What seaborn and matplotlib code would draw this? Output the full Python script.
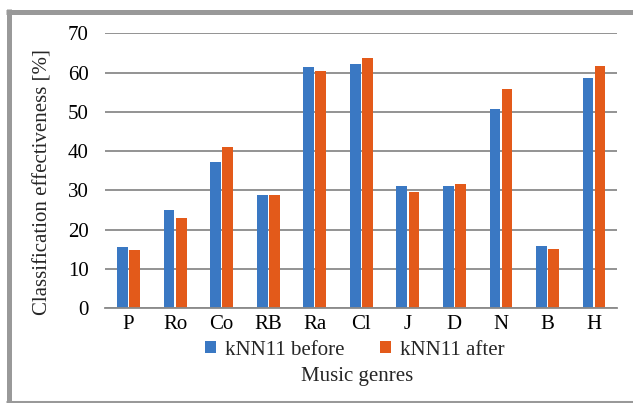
import pandas as pd
import matplotlib
matplotlib.use('Agg')
import matplotlib.pyplot as plt
from matplotlib.lines import Line2D
import seaborn as sns

# data
genres = ['P', 'Ro', 'Co', 'RB', 'Ra', 'Cl', 'J', 'D', 'N', 'B', 'H']
before = [15.5, 24.9, 37.3, 28.7, 61.4, 62.1, 31.1, 31.2, 50.6, 15.8, 58.5]
after = [14.8, 23.0, 41.0, 28.9, 60.3, 63.7, 29.6, 31.6, 55.9, 15.1, 61.6]
series = ['kNN11 before', 'kNN11 after']
colors = ['#3A78C3', '#E35A1A']

df = pd.DataFrame({'genre': genres * 2,
                   'value': before + after,
                   'series': [series[0]] * len(genres) + [series[1]] * len(genres)})

sns.set_style('white')
plt.rcParams['font.family'] = ['Liberation Serif', 'DejaVu Serif']
fs = 15

W, H = 633, 403
fig = plt.figure(figsize=(W / 100, H / 100), dpi=100)
ax = fig.add_axes([105.3 / W, 1 - 308 / H, 512 / W, 274.7 / H])

sns.barplot(data=df, x='genre', y='value', hue='series', palette=colors,
            width=0.52, gap=0.11, ax=ax, edgecolor='none', saturation=1)

ax.set_ylim(0, 70)
ax.set_yticks(range(0, 71, 10))
ax.set_xlim(-0.5, len(genres) - 0.5)
ax.yaxis.grid(True, color='#8a8a8a', linewidth=1.3)
ax.set_axisbelow(True)
for s in ['top', 'right', 'left']:
    ax.spines[s].set_visible(False)
ax.spines['bottom'].set_color('#8a8a8a')
ax.spines['bottom'].set_linewidth(1.3)
ax.tick_params(axis='both', length=0, labelsize=fs, colors='black')
ax.tick_params(axis='y', pad=12)
ax.tick_params(axis='x', pad=5)

ax.set_ylabel('Classification effectiveness [%]', fontsize=fs)
ax.yaxis.set_label_coords(-0.1217, 0.459)
ax.yaxis.label.set_verticalalignment('center')
ax.set_xlabel('Music genres', fontsize=fs)
ax.xaxis.set_label_coords(0.4916, -0.251)
ax.xaxis.label.set_verticalalignment('center')

ax.legend(loc='center', bbox_to_anchor=(0.487, -0.153), ncol=2, frameon=False,
          fontsize=fs, handlelength=0.53, handleheight=0.53, columnspacing=1.68,
          handletextpad=0.43, borderpad=0)

# gray frame on left, top and bottom
fig.add_artist(Line2D([8.5 / W, 8.5 / W], [0, 1 - 9 / H], transform=fig.transFigure,
                      color='#999999', linewidth=3.6, solid_capstyle='butt'))
fig.add_artist(Line2D([6 / W, 1], [1 - 11.5 / H, 1 - 11.5 / H], transform=fig.transFigure,
                      color='#999999', linewidth=3.6, solid_capstyle='butt'))
fig.add_artist(Line2D([6 / W, 1], [1.5 / H, 1.5 / H], transform=fig.transFigure,
                      color='#999999', linewidth=2.2, solid_capstyle='butt'))

fig.savefig('out.png', dpi=100)
